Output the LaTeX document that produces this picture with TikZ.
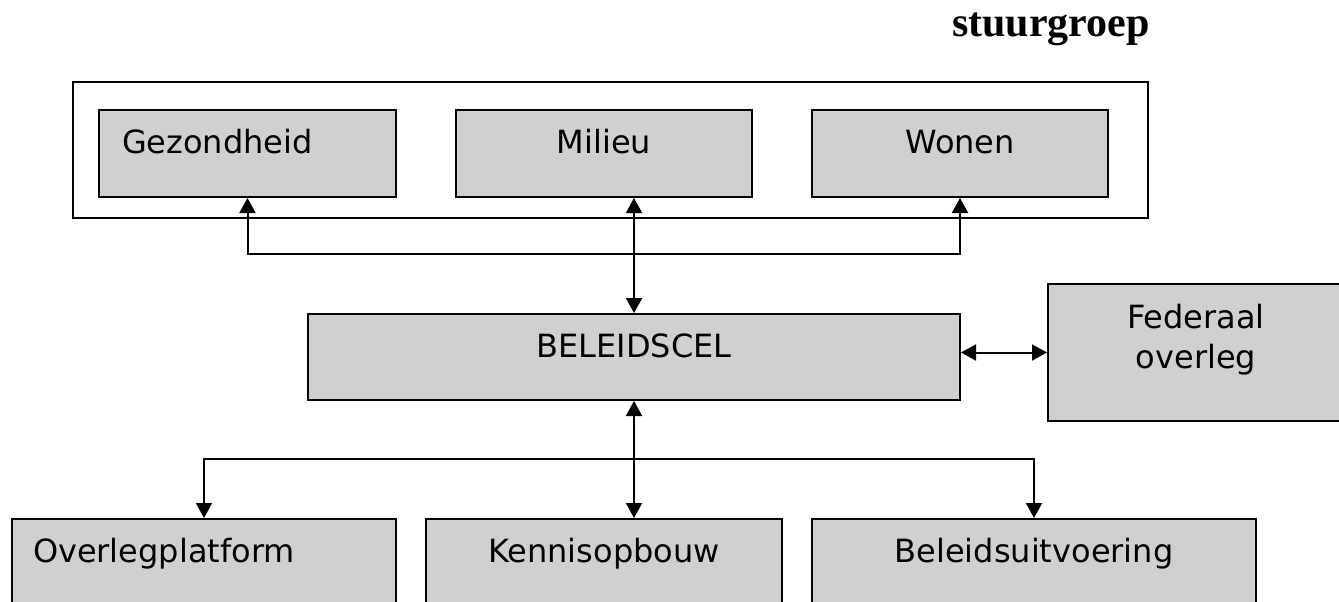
\documentclass[tikz,border=0pt]{standalone}
\usepackage{fontspec}
\usetikzlibrary{arrows.meta}
\newfontfamily\djfont{DejaVu Sans}
\newfontfamily\tmsfont{Liberation Serif}
\definecolor{boxgray}{RGB}{208,208,208}
\begin{document}
\begin{tikzpicture}[x=1pt,y=-1pt,
  boxbase/.style={draw=black, fill=boxgray, line width=2pt, anchor=north west,
    inner ysep=0pt, text height=43pt, font=\djfont\fontsize{32}{35}\selectfont},
  cbox/.style={boxbase, inner xsep=0pt, align=center},
  lbox/.style={boxbase, align=left},
  framebox/.style={draw=black, line width=2pt, anchor=north west, inner sep=0pt},
  conn/.style={line width=2pt,
    {Triangle[width=16pt,length=15pt]}-{Triangle[width=16pt,length=15pt]}},
]
\useasboundingbox (0,0) rectangle (1339,602);
\clip (0,0) rectangle (1339,602);

% title
\node[anchor=base west, inner sep=0pt, font=\tmsfont\bfseries\fontsize{42}{50}\selectfont] (title) at (952,37) {stuurgroep};

% outer frame
\node[framebox, minimum width=1075pt, minimum height=136pt] (frame) at (72,81) {};

% top row
\node[lbox, inner xsep=23pt, text width=251pt, text depth=44pt] (gez) at (98,109) {Gezondheid};
\node[cbox, text width=296pt, text depth=44pt] (mil) at (455,109) {Milieu};
\node[cbox, text width=296pt, text depth=44pt] (won) at (811,109) {Wonen};

% middle
\node[cbox, text width=652pt, text depth=43pt] (beleid) at (307,313) {BELEIDSCEL};
\node[cbox, text width=296pt, text height=44pt, text depth=93pt,
  font=\djfont\fontsize{32}{40}\selectfont] (fed) at (1047,283) {Federaal\\overleg};

% bottom row
\node[lbox, inner xsep=21pt, text width=342pt, text depth=100pt] (ove) at (11,518) {Overlegplatform};
\node[cbox, text width=356pt, text depth=100pt] (ken) at (425,518) {Kennisopbouw};
\node[cbox, text width=444pt, text depth=100pt] (buv) at (811,518) {Beleidsuitvoering};

% bus coordinates
\coordinate (busT) at (0,254);
\coordinate (busB) at (0,459);

% connectors
\draw[conn] (gez.south) -- (gez.south |- busT) -- (won.south |- busT) -- (won.south);
\draw[conn] (mil.south -| beleid.north) -- (beleid.north);
\draw[conn] (beleid.south) -- (beleid.south |- ken.north);
\draw[conn] (ove.north) -- (ove.north |- busB) -- (buv.north |- busB) -- (buv.north);
\draw[conn] (beleid.east |- fed.west) -- (fed.west);
\end{tikzpicture}
\end{document}
